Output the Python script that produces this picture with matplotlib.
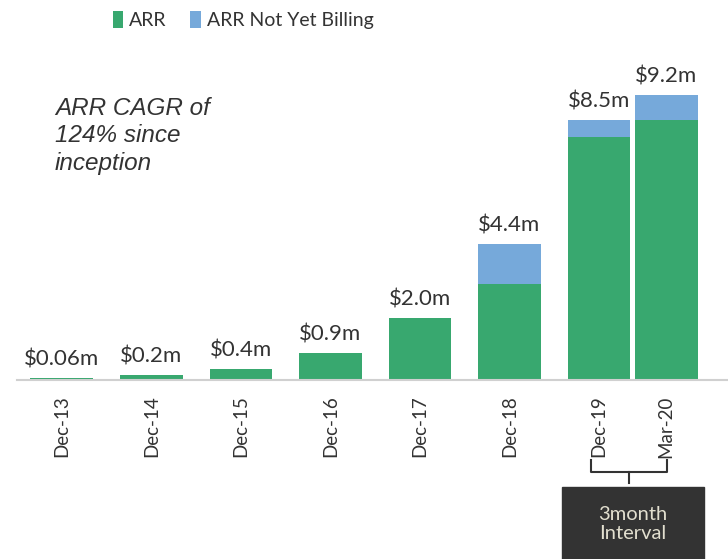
import matplotlib.pyplot as plt
from matplotlib.patches import Rectangle

periods = ["Dec-13", "Dec-14", "Dec-15", "Dec-16", "Dec-17", "Dec-18", "Dec-19", "Mar-20"]
arr = [0.06, 0.16, 0.36, 0.87, 2.0, 3.1, 7.85, 8.4]
not_billing = [0, 0, 0, 0, 0, 1.3, 0.55, 0.8]
totals = ["$0.06m", "$0.2m", "$0.4m", "$0.9m", "$2.0m", "$4.4m", "$8.5m", "$9.2m"]
xpos = [0, 1, 2, 3, 4, 5, 6, 6.75]

green = "#38a86f"
blue = "#76a9da"
txt = "#333333"

plt.rcParams["font.family"] = ["Lato", "DejaVu Sans"]

fig = plt.figure(figsize=(7.28, 5.59), dpi=100)
ax = fig.add_axes([17 / 728, 1 - 380 / 559, 711 / 728, 320 / 559])

w = 0.7
ax.bar(xpos, arr, width=w, color=green, label="ARR")
ax.bar(xpos, not_billing, width=w, bottom=arr, color=blue, label="ARR Not Yet Billing")

for x, a, b, t in zip(xpos, arr, not_billing, totals):
    ax.annotate(t, (x, a + b), xytext=(0, 6), textcoords="offset points",
                ha="center", va="bottom", fontsize=16, color=txt)

ax.set_xlim(-0.5, 7.44)
ax.set_ylim(0, 320 / 31)
ax.set_xticks(xpos)
ax.set_xticklabels(periods, rotation=90, fontsize=13.5, color=txt)
ax.tick_params(axis="x", length=0, pad=11)
ax.set_yticks([])
for s in ["top", "right", "left"]:
    ax.spines[s].set_visible(False)
ax.spines["bottom"].set_color("#d0d0d0")
ax.spines["bottom"].set_linewidth(1.5)

fig.text(55 / 728, 1 - 136 / 559, "ARR CAGR of\n124% since\ninception",
         family="Liberation Sans", style="italic", fontsize=17.5, color=txt,
         va="center", ha="left", linespacing=1.25)

fig.legend(loc="upper center", bbox_to_anchor=(243 / 728, 1.0), ncol=2, frameon=False,
           fontsize=14, handlelength=0.55, handleheight=1.0, handletextpad=0.3,
           columnspacing=1.2, labelcolor=txt, borderaxespad=0.15)

# bracket under Dec-19 / Mar-20
bx0, bx1, mid = 591 / 728, 667 / 728, 629 / 728
ytop, ymid, ytip = 1 - 460 / 559, 1 - 472 / 559, 1 - 483 / 559
fig.lines.append(plt.Line2D([bx0, bx0, bx1, bx1], [ytop, ymid, ymid, ytop],
                            transform=fig.transFigure, color=txt, lw=1.5))
fig.lines.append(plt.Line2D([mid, mid], [ymid, ytip],
                            transform=fig.transFigure, color=txt, lw=1.5))

fig.patches.append(Rectangle((562 / 728, 0), 142 / 728, 72 / 559,
                             transform=fig.transFigure, color="#333333"))
fig.text(633 / 728, 35 / 559, "3month\nInterval", ha="center", va="center",
         fontsize=14.5, color="#e2dfcf", linespacing=1.2)

fig.savefig("out.png", dpi=100)
